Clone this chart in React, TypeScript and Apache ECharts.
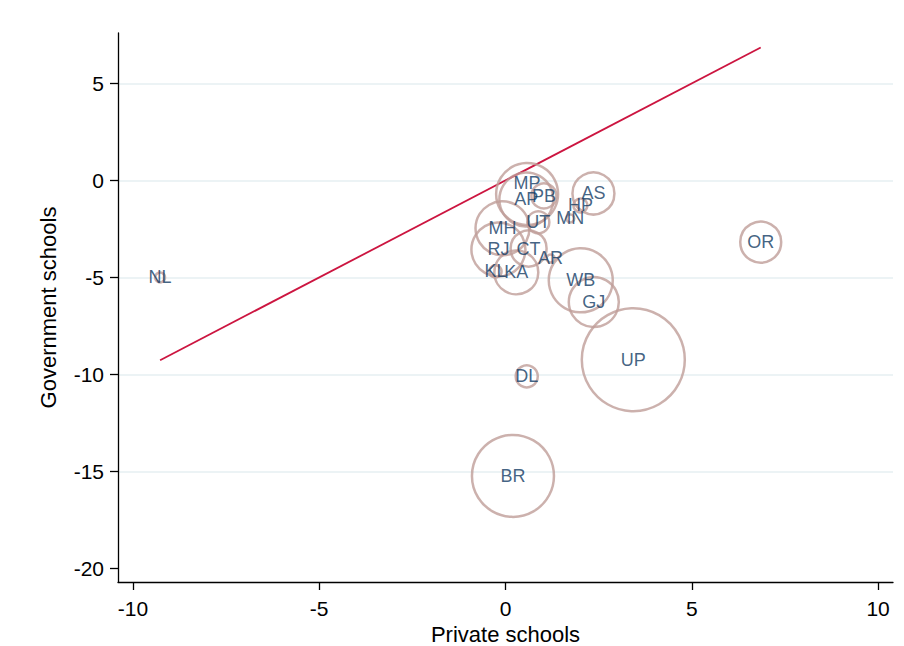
import { useEffect, useRef } from 'react';
import * as echarts from 'echarts';

// state codes and their gaps (private vs government schools)
const states = ['NL', 'MP', 'AP', 'PB', 'AS', 'HP', 'MN', 'UT', 'MH', 'RJ', 'CT', 'AR', 'KL', 'KA', 'WB', 'GJ', 'OR', 'UP', 'DL', 'BR'];
const privateSchools = [-9.27, 0.58, 0.56, 1.03, 2.36, 2.01, 1.74, 0.88, -0.08, -0.19, 0.62, 1.21, -0.27, 0.29, 2.02, 2.37, 6.85, 3.43, 0.57, 0.2];
const governmentSchools = [-5.0, -0.7, -0.98, -0.8, -0.67, -1.29, -1.96, -2.16, -2.47, -3.56, -3.51, -4.02, -4.69, -4.74, -5.15, -6.27, -3.18, -9.24, -10.1, -15.23];
// relative weight (bubble area)
const weights = [0.9, 36.2, 27.5, 5.9, 16.6, 1.8, 0.6, 4.6, 27.5, 27.5, 12.2, 0.6, 1.4, 18.2, 38.6, 23.6, 15.8, 100, 4.6, 63.4];

const xTicks = [-10, -5, 0, 5, 10];
const yTicks = [5, 0, -5, -10, -15, -20];
const gridLines = [5, 0, -5, -10, -15];

const FONT = '"Liberation Sans", Arial, sans-serif';

export default function App() {
  const chartRef = useRef<HTMLDivElement>(null);

  useEffect(() => {
    if (!chartRef.current) return;
    const chart = echarts.init(chartRef.current, null, { renderer: 'svg' });

    const minX = Math.min(...privateSchools);
    const maxX = Math.max(...privateSchools);

    const points = states.map((s, i) => ({
      name: s,
      value: [privateSchools[i], governmentSchools[i], weights[i]],
      label: s === 'MP' ? { offset: [0, -11] } : undefined,
    }));

    const axisCommon = {
      axisLine: { show: true, onZero: false, lineStyle: { color: '#000', width: 1.3 } },
      axisTick: { show: true, length: 8, lineStyle: { color: '#000', width: 1.3 } },
      splitLine: { show: false },
      nameTextStyle: { color: '#000', fontSize: 22, fontFamily: FONT },
    };

    const option: echarts.EChartsOption = {
      animation: false,
      backgroundColor: '#fff',
      grid: { left: 118, right: 11, top: 33, bottom: 64, outerBoundsMode: 'none' } as any,
      xAxis: {
        type: 'value',
        min: -10.4,
        max: 10.4,
        name: 'Private schools',
        nameLocation: 'middle',
        nameGap: 37,
        ...axisCommon,
        axisTick: { ...axisCommon.axisTick, customValues: xTicks },
        axisLabel: {
          customValues: xTicks,
          margin: 16,
          color: '#000',
          fontSize: 21,
          fontFamily: FONT,
        },
      },
      yAxis: {
        type: 'value',
        min: -20.7,
        max: 7.6,
        name: 'Government schools',
        nameLocation: 'middle',
        nameGap: 59,
        ...axisCommon,
        axisTick: { ...axisCommon.axisTick, customValues: yTicks },
        axisLabel: {
          customValues: yTicks,
          margin: 14,
          color: '#000',
          fontSize: 21,
          fontFamily: FONT,
        },
      },
      series: [
        {
          type: 'line',
          data: [
            [minX, minX],
            [maxX, maxX],
          ],
          symbol: 'none',
          lineStyle: { color: '#cc1540', width: 1.8 },
          z: 1,
          markLine: {
            silent: true,
            symbol: 'none',
            label: { show: false },
            lineStyle: { color: '#e6eff2', width: 1.6, type: 'solid' },
            data: gridLines.map((v) => ({ yAxis: v })),
            z: 0,
          },
        },
        {
          type: 'scatter',
          data: points,
          symbol: 'circle',
          symbolSize: (val: number[]) => 103 * Math.sqrt(val[2] / 100),
          itemStyle: {
            color: 'rgba(0,0,0,0)',
            borderColor: '#bf9d98',
            borderWidth: 2.5,
          },
          label: {
            show: true,
            position: 'inside',
            formatter: '{b}',
            color: '#123b63',
            fontSize: 18,
            fontFamily: FONT,
          },
          z: 2,
        },
      ],
    };

    chart.setOption(option);
    return () => chart.dispose();
  }, []);

  return (
    <div
      ref={chartRef}
      style={{ position: 'fixed', left: 0, top: 0, width: 904, height: 646 }}
    />
  );
}
